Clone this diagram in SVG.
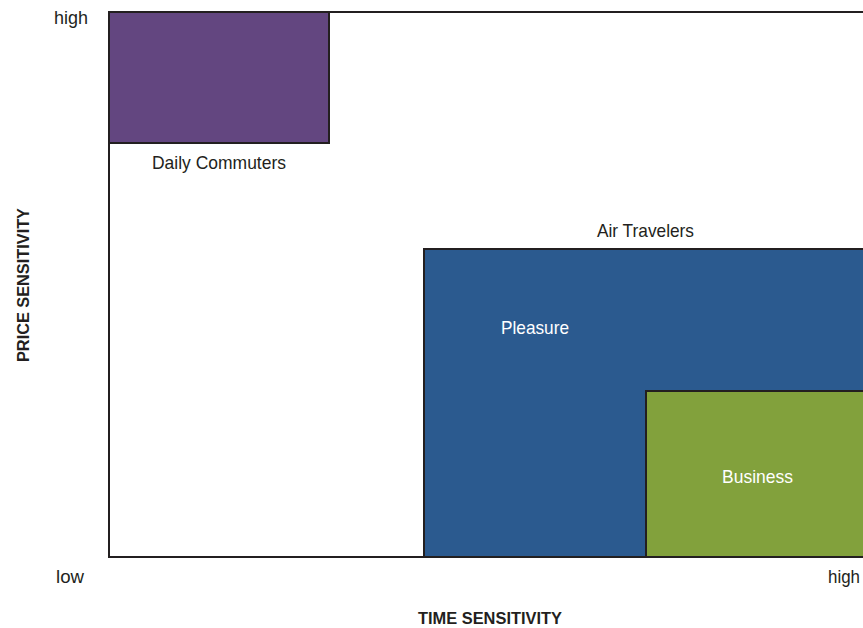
<svg xmlns="http://www.w3.org/2000/svg" width="863" height="628" viewBox="0 0 863 628">
<style>
.t{font-family:"Liberation Sans",Arial,sans-serif;font-size:19px;fill:#231f20}
.b{font-weight:bold;font-size:17px}
.w{fill:#ffffff}
.box{stroke:#231f20;stroke-width:2}
</style>
<rect width="863" height="628" fill="#ffffff"/>
<g id="frame">
<rect class="box" x="109" y="12" width="770" height="545" fill="#ffffff"/>
</g>
<g id="daily-commuters">
<rect class="box" x="109" y="12" width="220" height="131" fill="#634680"/>
<text class="t" x="152" y="169" textLength="134" lengthAdjust="spacingAndGlyphs">Daily Commuters</text>
</g>
<g id="air-travelers">
<text class="t" x="597" y="237" textLength="97" lengthAdjust="spacingAndGlyphs">Air Travelers</text>
</g>
<g id="pleasure">
<rect class="box" x="424" y="249" width="460" height="308" fill="#2b5a8f"/>
<text class="t w" x="501" y="334" textLength="68" lengthAdjust="spacingAndGlyphs">Pleasure</text>
</g>
<g id="business">
<rect class="box" x="646" y="391" width="240" height="166" fill="#82a13c"/>
<text class="t w" x="722" y="483" textLength="71" lengthAdjust="spacingAndGlyphs">Business</text>
</g>
<g id="axes">
<text class="t" x="54" y="24" textLength="34" lengthAdjust="spacingAndGlyphs">high</text>
<text class="t" x="56" y="583" textLength="28" lengthAdjust="spacingAndGlyphs">low</text>
<text class="t" x="828" y="583" textLength="32" lengthAdjust="spacingAndGlyphs">high</text>
<text class="t b" x="418" y="624" textLength="144" lengthAdjust="spacingAndGlyphs">TIME SENSITIVITY</text>
<text class="t b" transform="translate(29 362) rotate(-90)" x="0" y="0" textLength="154" lengthAdjust="spacingAndGlyphs">PRICE SENSITIVITY</text>
</g>
<g id="connectors"></g>
</svg>
